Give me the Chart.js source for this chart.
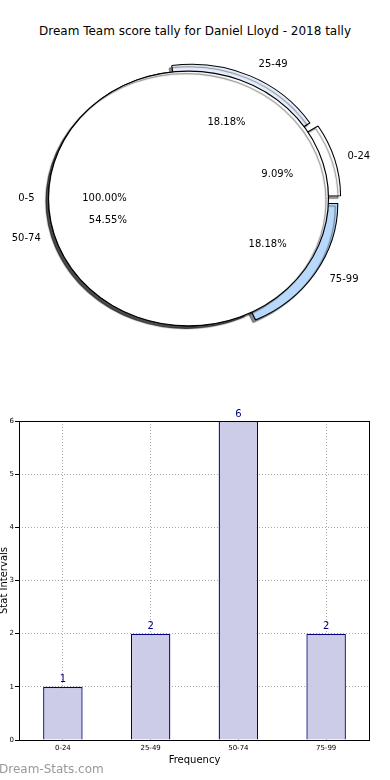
<!DOCTYPE html>
<html>
<head>
<meta charset="utf-8">
<script src="https://cdn.jsdelivr.net/npm/chart.js@4.4.1/dist/chart.umd.min.js"></script>
<style>
  body { margin: 0; width: 390px; height: 780px; background: #fff; position: relative; overflow: hidden; font-family: "DejaVu Sans", sans-serif; }
  canvas { position: absolute; left: 0; }
  #title { position: absolute; top: 24px; left: 0; width: 390px; text-align: center; font-size: 12px; color: #000; }
  #mark { position: absolute; left: -1px; top: 762px; font-size: 12px; color: #999; }
</style>
</head>
<body>
<div id="title">Dream Team score tally for Daniel Lloyd - 2018 tally</div>
<canvas id="pieBack" width="390" height="337" style="top:30px"></canvas>
<canvas id="pieFront" width="390" height="337" style="top:30px"></canvas>
<canvas id="bars" width="390" height="380" style="top:400px"></canvas>
<div id="mark">Dream-Stats.com</div>
<script>
const categories = ['0-24', '25-49', '50-74', '75-99'];
const counts = [1, 2, 6, 2];
const outerCategories = ['0-5'];
const outerCounts = [1];
const yTickValues = [0, 1, 2, 3, 4, 5, 6];

const sliceColors = ['#ffffff', '#e6eefc', '#ffffff', '#b8d8fc'];
const sliceOffset = [34, 30, 0, 40];   // chart.js moves a slice by offset/4 px
const KY = 0.91;                       // squash pies into an ellipse
const R = 140;

Chart.defaults.font.family = 'DejaVu Sans';
Chart.defaults.color = '#000';

// matplotlib draws counter-clockwise from 3 o'clock, chart.js clockwise
const order = [3, 2, 1, 0];

const squash = {
  id: 'squash',
  beforeDatasetsDraw(chart) {
    const arc = chart.getDatasetMeta(0).data[0];
    const ctx = chart.ctx;
    ctx.save();
    ctx.translate(arc.x, arc.y);
    ctx.scale(1, KY);
    ctx.translate(-arc.x, -arc.y);
    ctx.shadowColor = 'rgba(0,0,0,0.45)';
    ctx.shadowOffsetX = -2.5;
    ctx.shadowOffsetY = 2.5;
    ctx.shadowBlur = 1;
  },
  afterDatasetsDraw(chart) {
    chart.ctx.restore();
  }
};

function pct(v, list) {
  const total = list.reduce((a, b) => a + b, 0);
  return (v / total * 100).toFixed(2) + '%';
}

const backChart = new Chart(document.getElementById('pieBack'), {
  type: 'pie',
  data: {
    labels: order.map(i => categories[i]),
    datasets: [{
      data: order.map(i => counts[i]),
      backgroundColor: order.map(i => sliceColors[i]),
      offset: order.map(i => sliceOffset[i]),
      borderColor: '#000',
      borderWidth: 1.1,
      clip: false
    }]
  },
  options: {
    responsive: false,
    animation: false,
    devicePixelRatio: 1,
    rotation: 90,
    radius: R,
    layout: { padding: { right: 13 } },
    plugins: { legend: { display: false }, tooltip: { enabled: false } }
  },
  plugins: [squash]
});

function drawPieLabels(ctx, chart, labels, values) {
  const meta = chart.getDatasetMeta(0);
  ctx.save();
  ctx.font = '10px "DejaVu Sans"';
  ctx.fillStyle = '#000';
  ctx.textBaseline = 'middle';
  meta.data.forEach((arc, i) => {
    const p = arc.getProps(['x', 'y', 'startAngle', 'endAngle', 'outerRadius'], true);
    const mid = (p.startAngle + p.endAngle) / 2;
    const d = (arc.options.offset || 0) / 4;
    const ox = p.x + d * Math.cos(mid);
    const oy = p.y + d * Math.sin(mid) * KY;
    const lx = ox + 1.1 * p.outerRadius * Math.cos(mid);
    const ly = oy + 1.1 * p.outerRadius * Math.sin(mid) * KY;
    const right = lx > p.x;
    ctx.textAlign = right ? 'left' : 'right';
    ctx.fillText(labels[i], right ? lx + 3 : lx, ly);
    ctx.textAlign = 'center';
    ctx.fillText(pct(values[i], values),
      ox + 0.6 * p.outerRadius * Math.cos(mid),
      oy + 0.6 * p.outerRadius * Math.sin(mid) * KY);
  });
  ctx.restore();
}

new Chart(document.getElementById('pieFront'), {
  type: 'pie',
  data: {
    labels: outerCategories,
    datasets: [{
      data: outerCounts,
      backgroundColor: '#ffffff',
      borderColor: '#000',
      borderWidth: 1.2,
      // stroke only the rim, not the radius line of a full-circle slice
      borderDash: [2 * Math.PI * R + 0.5, 5000],
      clip: false
    }]
  },
  options: {
    responsive: false,
    animation: false,
    devicePixelRatio: 1,
    rotation: 90,
    radius: R,
    layout: { padding: { right: 13 } },
    plugins: { legend: { display: false }, tooltip: { enabled: false } }
  },
  plugins: [squash, {
    id: 'pieLabels',
    afterDraw(chart) {
      drawPieLabels(chart.ctx, backChart, order.map(i => categories[i]), order.map(i => counts[i]));
      drawPieLabels(chart.ctx, chart, outerCategories, outerCounts);
    }
  }]
});
</script>
<script>
const frame = {
  id: 'frame',
  afterDatasetsDraw(chart) {
    const ctx = chart.ctx;
    const a = chart.chartArea;
    const meta = chart.getDatasetMeta(0);
    ctx.save();
    ctx.font = '10px "DejaVu Sans"';
    ctx.fillStyle = '#00008b';
    ctx.textAlign = 'center';
    ctx.textBaseline = 'bottom';
    meta.data.forEach((bar, i) => {
      ctx.fillText(String(counts[i]), bar.x, bar.y - 2);
    });
    ctx.strokeStyle = '#000';
    ctx.lineWidth = 1;
    ctx.strokeRect(Math.round(a.left) + 0.5, Math.round(a.top) + 0.5,
      Math.round(a.right - a.left) - 1, Math.round(a.bottom - a.top));
    ctx.restore();
  }
};

new Chart(document.getElementById('bars'), {
  type: 'bar',
  data: {
    labels: categories,
    datasets: [{
      data: counts,
      backgroundColor: '#ccccE6',
      borderColor: '#000080',
      borderWidth: 1.3,
      barPercentage: 0.45,
      categoryPercentage: 1
    }]
  },
  options: {
    responsive: false,
    animation: false,
    devicePixelRatio: 1,
    layout: { padding: { top: 21, right: 20, left: 0, bottom: 0 } },
    plugins: { legend: { display: false }, tooltip: { enabled: false } },
    scales: {
      x: {
        afterFit: s => { s.height = 40; },
        grid: { offset: false, color: '#a8a8a8', drawTicks: false },
        border: { display: false, dash: [1, 2] },
        ticks: { font: { size: 7 }, padding: 4, maxRotation: 0 },
        title: { display: true, text: 'Frequency', font: { size: 10 }, padding: { top: 0, bottom: 14 } }
      },
      y: {
        min: 0,
        max: 6,
        afterFit: s => { s.width = 19; },
        afterBuildTicks: s => { s.ticks = yTickValues.map(v => ({ value: v })); },
        grid: { color: '#a8a8a8', tickLength: 4, tickColor: '#000', tickBorderDash: [] },
        border: { display: false, dash: [1, 2] },
        ticks: { font: { size: 7 }, padding: 1 },
        title: { display: true, text: 'Stat Intervals', font: { size: 10 }, padding: { top: -2 } }
      }
    }
  },
  plugins: [frame]
});
</script>
</body>
</html>
